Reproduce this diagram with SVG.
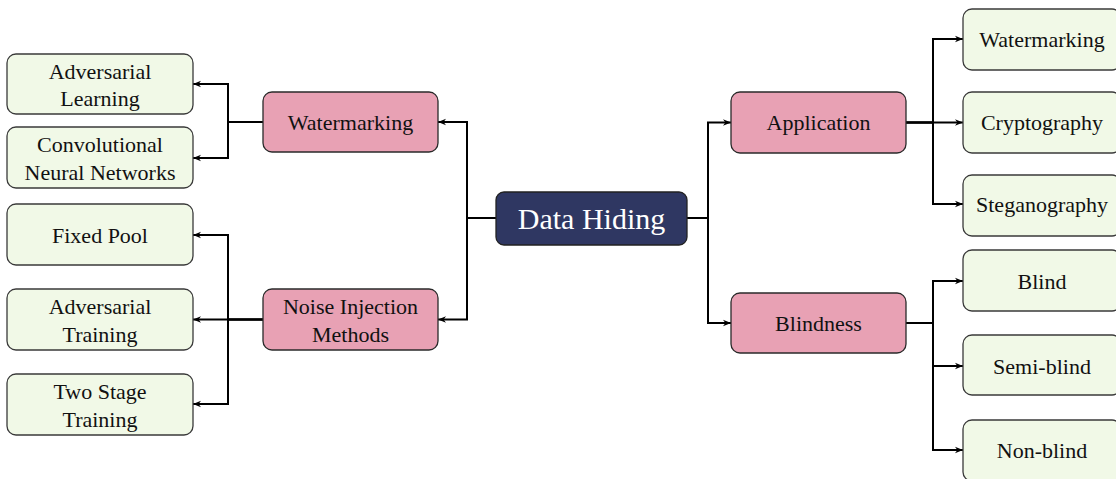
<svg xmlns="http://www.w3.org/2000/svg" width="1116" height="479" viewBox="0 0 1116 479">
<defs>
<marker id="arr" viewBox="0 0 10 10" refX="10" refY="5" markerWidth="8" markerHeight="8" markerUnits="userSpaceOnUse" orient="auto">
<path d="M0,1 L10,5 L0,9 L3,5 Z" fill="#000"/>
</marker>
<style>
.leaf{fill:#f1f9e7;stroke:#3a3a3a;stroke-width:1.3}
.mid{fill:#e8a1b4;stroke:#2a2a2a;stroke-width:1.3}
.root{fill:#2f3762;stroke:#222;stroke-width:1.3}
text{font-family:"Liberation Serif","Times New Roman",serif;font-size:22px;fill:#111;text-anchor:middle}
.rt{fill:#fff;font-size:30px}
.conn path{fill:none;stroke:#000;stroke-width:2;marker-end:url(#arr)}
</style>
</defs>
<rect width="1116" height="479" fill="#fff"/>
<g class="conn">
<path d="M496,218 H467 V122 H438"/>
<path d="M496,218 H467 V319.5 H438"/>
<path d="M687,218 H708 V122.5 H731"/>
<path d="M687,218 H708 V323 H731"/>
<path d="M263,122 H228 V84 H193"/>
<path d="M263,122 H228 V158 H193"/>
<path d="M263,319.5 H228 V235 H193"/>
<path d="M263,319.5 H193"/>
<path d="M263,319.5 H228 V404 H193"/>
<path d="M906,122.5 H933 V39 H963"/>
<path d="M906,122.5 H963"/>
<path d="M906,122.5 H933 V204 H963"/>
<path d="M906,323 H933 V281 H963"/>
<path d="M906,323 H933 V366 H963"/>
<path d="M906,323 H933 V450 H963"/>
</g>
<g id="root"><rect class="root" x="496" y="192" width="191" height="53" rx="8"/><text class="rt" x="591.5" y="229">Data Hiding</text></g>
<g id="watermarking"><rect class="mid" x="263" y="92" width="175" height="60" rx="9"/><text x="350.5" y="130">Watermarking</text></g>
<g id="noise"><rect class="mid" x="263" y="289" width="175" height="61" rx="9"/><text x="350.5" y="314">Noise Injection</text><text x="350.5" y="342">Methods</text></g>
<g id="application"><rect class="mid" x="731" y="92" width="175" height="61" rx="9"/><text x="818.5" y="130">Application</text></g>
<g id="blindness"><rect class="mid" x="731" y="293" width="175" height="60" rx="9"/><text x="818.5" y="331">Blindness</text></g>
<g id="adv-learning"><rect class="leaf" x="7" y="54" width="186" height="60" rx="9"/><text x="100" y="79">Adversarial</text><text x="100" y="106">Learning</text></g>
<g id="cnn"><rect class="leaf" x="7" y="127" width="186" height="61" rx="9"/><text x="100" y="152">Convolutional</text><text x="100" y="180">Neural Networks</text></g>
<g id="fixed-pool"><rect class="leaf" x="7" y="204" width="186" height="61" rx="9"/><text x="100" y="243">Fixed Pool</text></g>
<g id="adv-training"><rect class="leaf" x="7" y="289" width="186" height="61" rx="9"/><text x="100" y="314">Adversarial</text><text x="100" y="342">Training</text></g>
<g id="two-stage"><rect class="leaf" x="7" y="374" width="186" height="61" rx="9"/><text x="100" y="399">Two Stage</text><text x="100" y="427">Training</text></g>
<g id="app-watermarking"><rect class="leaf" x="963" y="9" width="158" height="61" rx="9"/><text x="1042" y="47">Watermarking</text></g>
<g id="cryptography"><rect class="leaf" x="963" y="92" width="158" height="61" rx="9"/><text x="1042" y="130">Cryptography</text></g>
<g id="steganography"><rect class="leaf" x="963" y="175" width="158" height="61" rx="9"/><text x="1042" y="212">Steganography</text></g>
<g id="blind"><rect class="leaf" x="963" y="250" width="158" height="61" rx="9"/><text x="1042" y="289">Blind</text></g>
<g id="semi-blind"><rect class="leaf" x="963" y="335" width="158" height="60" rx="9"/><text x="1042" y="374">Semi-blind</text></g>
<g id="non-blind"><rect class="leaf" x="963" y="420" width="158" height="61" rx="9"/><text x="1042" y="458">Non-blind</text></g>
</svg>
